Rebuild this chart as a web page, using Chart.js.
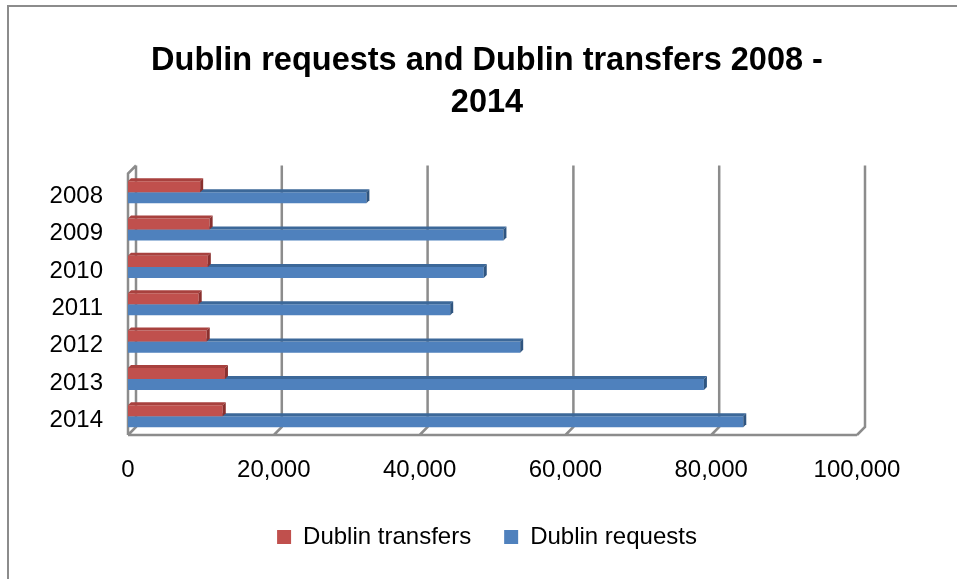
<!DOCTYPE html>
<html>
<head>
<meta charset="utf-8">
<script src="https://cdn.jsdelivr.net/npm/chart.js@4/dist/chart.umd.min.js"></script>
<style>
  body { margin: 0; background: #fff; }
  #wrap { position: relative; width: 957px; height: 579px; }
  #frame { position: absolute; left: 7px; top: 5px; right: 0; bottom: 0;
           border-top: 2px solid #8c8c8c; border-left: 2px solid #8c8c8c; pointer-events: none; }
</style>
</head>
<body>
<div id="wrap">
  <canvas id="myChart" width="957" height="579"></canvas>
  <div id="frame"></div>
</div>
<script>
const years = ['2008', '2009', '2010', '2011', '2012', '2013', '2014'];
const transfers = [9900, 11200, 10950, 9700, 10800, 13300, 13000];
const requests = [32700, 51500, 48800, 44200, 53800, 79000, 84400];
const xTicks = [0, 20000, 40000, 60000, 80000, 100000];

const depth = 8;     // depth of the back wall
const barDepth = 3;  // depth of each bar

Chart.defaults.font.family = "'Liberation Sans', Arial, sans-serif";
Chart.defaults.color = '#000';

// back wall, floor and gridlines in a simple 3D look
const wallPlugin = {
  id: 'wall',
  beforeDatasetsDraw(chart) {
    const {ctx, chartArea: a, scales: {x}} = chart;
    ctx.save();
    ctx.strokeStyle = '#8c8c8c';
    ctx.lineWidth = 2.5;
    ctx.beginPath();
    xTicks.forEach(v => {
      const px = x.getPixelForValue(v);
      ctx.moveTo(px, a.bottom);
      ctx.lineTo(px + depth, a.bottom - depth);
      ctx.lineTo(px + depth, a.top - depth);
    });
    ctx.moveTo(a.left, a.bottom);
    ctx.lineTo(x.getPixelForValue(100000), a.bottom);
    ctx.moveTo(a.left, a.bottom);
    ctx.lineTo(a.left, a.top);
    ctx.lineTo(a.left + depth, a.top - depth);
    ctx.stroke();
    ctx.restore();
  }
};

const shade = [
  {top: '#a8413e', side: '#8a302e'},
  {top: '#3c6899', side: '#2f5580'}
];

const barPlugin = {
  id: 'bar3d',
  afterDatasetDraw(chart, args) {
    const {ctx} = chart;
    const c = shade[args.index];
    ctx.save();
    args.meta.data.forEach(el => {
      const {x, y, base, height} = el.getProps(['x', 'y', 'base', 'height'], true);
      const t = y - height / 2, b = y + height / 2, d = barDepth;
      ctx.fillStyle = c.top;
      ctx.beginPath();
      ctx.moveTo(base, t); ctx.lineTo(x, t); ctx.lineTo(x + d, t - d); ctx.lineTo(base + d, t - d);
      ctx.closePath(); ctx.fill();
      ctx.fillStyle = c.side;
      ctx.beginPath();
      ctx.moveTo(x, t); ctx.lineTo(x + d, t - d); ctx.lineTo(x + d, b - d); ctx.lineTo(x, b);
      ctx.closePath(); ctx.fill();
    });
    ctx.restore();
  }
};

const ctx = document.getElementById('myChart').getContext('2d');
const myChart = new Chart(ctx, {
  type: 'bar',
  data: {
    labels: years,
    datasets: [{
      label: 'Dublin transfers',
      data: transfers,
      backgroundColor: '#c0504d',
      categoryPercentage: 0.59,
      barPercentage: 1.0
    }, {
      label: 'Dublin requests',
      data: requests,
      backgroundColor: '#4f81bd',
      categoryPercentage: 0.59,
      barPercentage: 1.0
    }]
  },
  options: {
    indexAxis: 'y',
    responsive: false,
    animation: false,
    layout: { padding: { left: 17, right: 0, top: 0, bottom: 20 } },
    scales: {
      x: {
        min: 0, max: 100000,
        grid: { display: false },
        border: { display: false },
        afterBuildTicks: s => { s.ticks = xTicks.map(v => ({value: v})); },
        ticks: {
          padding: 13,
          font: { size: 24 },
          callback: v => v.toLocaleString('en-US')
        },
        afterFit: s => { s.height = 57; }
      },
      y: {
        grid: { display: false },
        border: { display: false },
        ticks: { padding: 17, labelOffset: 4, font: { size: 24 } },
        afterFit: s => { s.width = 111; }
      },
      // empty axis that keeps room on the right
      y2: {
        type: 'category',
        position: 'right',
        grid: { display: false, drawTicks: false },
        border: { display: false },
        ticks: { display: false },
        afterFit: s => { s.width = 100; }
      }
    },
    plugins: {
      title: {
        display: true,
        text: ['Dublin requests and Dublin transfers 2008 -', '2014'],
        font: { size: 32.5, weight: 'bold', lineHeight: 1.3 },
        color: '#000',
        padding: { top: 40, bottom: 49 }
      },
      legend: {
        position: 'bottom',
        labels: {
          boxWidth: 14, boxHeight: 14, padding: 33,
          font: { size: 24 }
        }
      },
      tooltip: { enabled: false }
    }
  },
  plugins: [wallPlugin, barPlugin]
});
</script>
</body>
</html>
